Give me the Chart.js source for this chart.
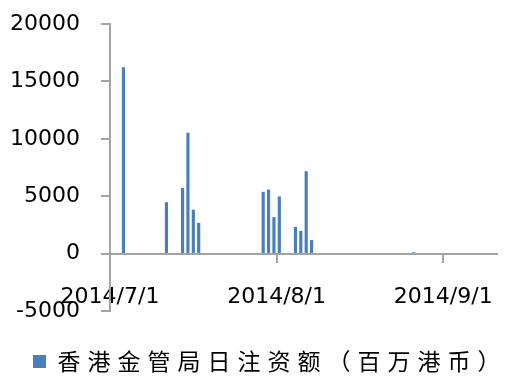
<!DOCTYPE html>
<html>
<head>
<meta charset="utf-8">
<script src="https://cdn.jsdelivr.net/npm/chart.js@4/dist/chart.umd.min.js"></script>
<style>
  html, body { margin: 0; padding: 0; background: #fff; }
  #wrap { width: 507px; height: 381px; }
</style>
</head>
<body>
<div id="wrap"><canvas id="injectChart" width="507" height="381"></canvas></div>
<script>
// Days with an injection and the amount (HK$ million)
const injectDates = ['2014-07-03', '2014-07-11', '2014-07-14', '2014-07-15', '2014-07-16', '2014-07-17',
                     '2014-07-29', '2014-07-30', '2014-07-31', '2014-08-01',
                     '2014-08-04', '2014-08-05', '2014-08-06', '2014-08-07', '2014-08-26'];
const injectValues = [16200, 4450, 5700, 10500, 3800, 2650,
                      5350, 5550, 3150, 4950,
                      2300, 1950, 7150, 1150, 80];
const seriesLabel = '香港金管局日注资额（百万港币）';

// Date axis range and its labels
const axisStart = '2014-07-01';
const axisEnd = '2014-09-11';
const tickDates = ['2014-07-01', '2014-08-01', '2014-09-01'];
const tickLabels = ['2014/7/1', '2014/8/1', '2014/9/1'];

// Value axis
const yMin = -5000;
const yMax = 20000;
const yStep = 5000;

const axisGray = '#a3a3a3';

// days since axis start
function dayOf(s) {
    return (Date.parse(s) - Date.parse(axisStart)) / 86400000;
}

// each bar sits in the middle of its day
const points = injectDates.map((d, i) => ({ x: dayOf(d) + 0.5, y: injectValues[i] }));
const tickDays = tickDates.map(dayOf);

// wider letter spacing for the legend text only
const legendSpacing = {
    id: 'legendSpacing',
    afterInit(chart) {
        const legend = chart.legend;
        ['fit', 'draw'].forEach(fn => {
            const orig = legend[fn].bind(legend);
            legend[fn] = function (...args) {
                chart.ctx.letterSpacing = '7px';
                const r = orig(...args);
                chart.ctx.letterSpacing = '0px';
                return r;
            };
        });
    }
};

// the scales should not push the plot area in for their end labels
function noEdgePadding(s) {
    s.paddingTop = 0;
    s.paddingBottom = 0;
    s.paddingLeft = 0;
    s.paddingRight = 0;
}

const ctx = document.getElementById('injectChart').getContext('2d');
new Chart(ctx, {
    type: 'bar',
    data: {
        datasets: [{
            label: seriesLabel,
            data: points,
            backgroundColor: '#4a7ebb',
            borderWidth: 0,
            barThickness: 2.5
        }]
    },
    options: {
        responsive: false,
        animation: false,
        layout: { padding: { left: 0, right: 10, top: 24, bottom: -2 } },
        plugins: {
            legend: {
                position: 'bottom',
                align: 'start',
                labels: {
                    boxWidth: 13,
                    boxHeight: 13,
                    padding: 33,
                    color: '#000',
                    font: { family: '"Noto Sans CJK SC"', size: 23 }
                }
            },
            tooltip: { enabled: false }
        },
        scales: {
            x: {
                type: 'linear',
                position: { y: 0 },
                min: 0,
                max: dayOf(axisEnd),
                offset: false,
                grid: {
                    offset: false,
                    drawOnChartArea: false,
                    drawTicks: true,
                    tickLength: 8,
                    color: axisGray,
                    lineWidth: 2
                },
                border: { display: true, color: axisGray, width: 2 },
                afterBuildTicks: s => { s.ticks = tickDays.map(v => ({ value: v })); },
                afterFit: noEdgePadding,
                ticks: {
                    autoSkip: false,
                    maxRotation: 0,
                    padding: 22,
                    color: '#000',
                    font: { family: '"DejaVu Sans"', size: 22 },
                    callback: v => tickLabels[tickDays.indexOf(v)]
                }
            },
            // empty axis that only keeps a little room above the legend
            x2: {
                type: 'linear',
                position: 'bottom',
                min: 0,
                max: 1,
                grid: { display: false },
                border: { display: false },
                ticks: { display: false },
                afterFit: s => { noEdgePadding(s); s.height = 6; }
            },
            y: {
                min: yMin,
                max: yMax,
                grid: {
                    drawOnChartArea: false,
                    drawTicks: true,
                    tickLength: 9,
                    color: axisGray,
                    lineWidth: 2
                },
                border: { display: true, color: axisGray, width: 2 },
                ticks: {
                    stepSize: yStep,
                    padding: 21,
                    color: '#000',
                    font: { family: '"DejaVu Sans"', size: 22 },
                    callback: v => String(v)
                },
                afterFit: s => { noEdgePadding(s); s.width = 110; }
            }
        }
    },
    plugins: [legendSpacing]
});
</script>
</body>
</html>
